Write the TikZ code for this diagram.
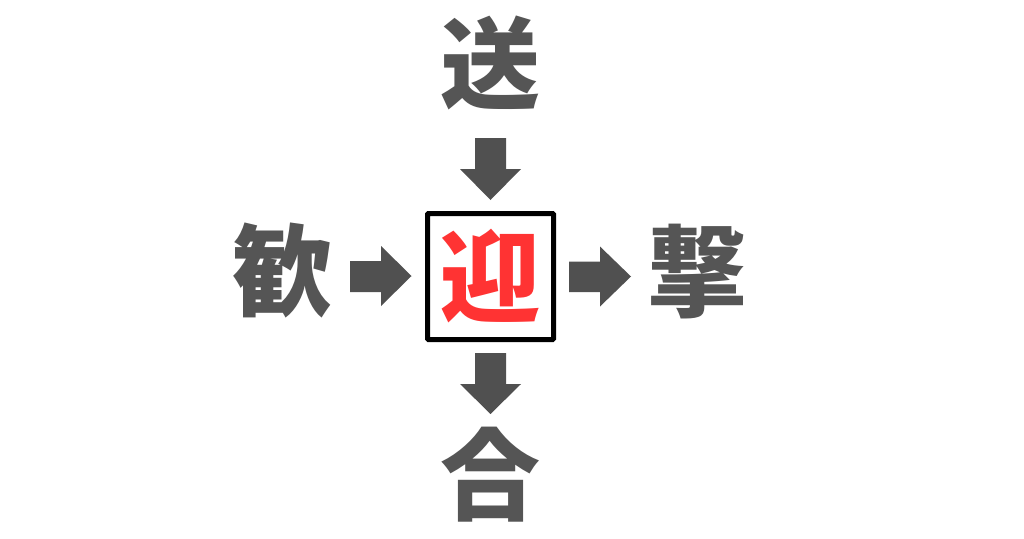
\documentclass[tikz,border=0pt]{standalone}
\usepackage{fontspec}
\newfontfamily\cjk{Noto Sans CJK JP}
\definecolor{arrowgray}{HTML}{505050}
\definecolor{textgray}{HTML}{555555}
\definecolor{ansred}{HTML}{FF3333}
\begin{document}
\begin{tikzpicture}[x=1pt,y=-1pt,
  kanji/.style={font=\cjk\bfseries\fontsize{100}{100}\selectfont, text=textgray, inner sep=0pt},
  blockarrow/.style={fill=arrowgray, draw=none}]
\useasboundingbox (0,0) rectangle (1024,538);
\fill[white] (0,0) rectangle (1024,538);
% nodes
\node[kanji] (top) at (490.5,62.5) {送};
\node[kanji] (left) at (282.5,270.5) {歓};
\node[kanji] (right) at (697,271.5) {撃};
\node[kanji] (bottom) at (490.5,475) {合};
\node[kanji, text=ansred] (center) at (490,276) {迎};
\draw[line width=5pt, rounded corners=1pt] (427.5,213.5) rectangle (553.5,339.5);
\coordinate (box) at (490.5,276.5);
% block arrows
\fill[blockarrow] (475,138) -- (506,138) -- (506,169) -- (521,169) -- (490.5,200) -- (460,169) -- (475,169) -- cycle;
\fill[blockarrow] (475,353) -- (506,353) -- (506,384) -- (521,384) -- (490.5,414) -- (460,384) -- (475,384) -- cycle;
\fill[blockarrow] (350,261) -- (381,261) -- (381,246) -- (411.5,276) -- (381,306) -- (381,292) -- (350,292) -- cycle;
\fill[blockarrow] (569,261.5) -- (600,261.5) -- (600,246.5) -- (631,276.5) -- (600,306.5) -- (600,292) -- (569,292) -- cycle;
\end{tikzpicture}
\end{document}
